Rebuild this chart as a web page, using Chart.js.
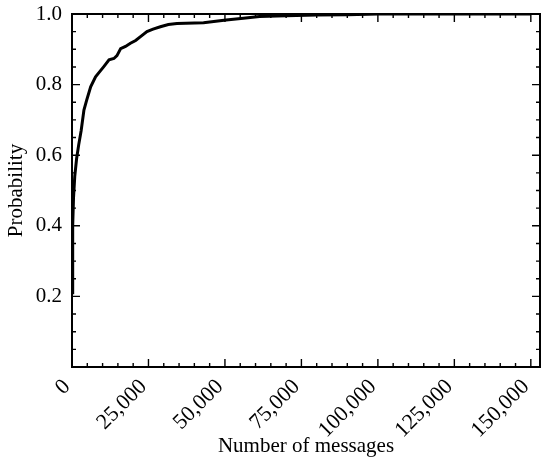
<!DOCTYPE html>
<html>
<head>
<meta charset="utf-8">
<script src="https://cdn.jsdelivr.net/npm/chart.js@4/dist/chart.umd.min.js"></script>
<style>
    html, body { margin: 0; padding: 0; background: #fff; }
    #wrap { width: 550px; height: 463px; }
</style>
</head>
<body>
<div id="wrap"><canvas id="chart" width="550" height="463"></canvas></div>
<script>
const messageCounts = [0, 150, 300, 500, 900, 1500, 2200, 3000, 3900, 4800, 6100, 7700,
    9000, 10400, 12100, 13700, 14700, 15900, 17500, 19100, 20800, 22400, 24500, 26500,
    28900, 31500, 34300, 43000, 50400, 56000, 61300, 70000, 80000, 90000, 100000, 125000, 150000];
const probabilities = [0.21, 0.30, 0.40, 0.48, 0.54, 0.59, 0.63, 0.67, 0.728, 0.756, 0.794, 0.822,
    0.836, 0.851, 0.870, 0.874, 0.882, 0.902, 0.908, 0.917, 0.925, 0.936, 0.950, 0.957,
    0.964, 0.970, 0.973, 0.975, 0.983, 0.988, 0.993, 0.995, 0.997, 0.998, 1.0, 1.0, 1.0];

const xTicks = [0, 25000, 50000, 75000, 100000, 125000, 150000];
const yTicks = [0.2, 0.4, 0.6, 0.8, 1.0];

const X_MAX = 153000;
const SERIF = '"Liberation Serif", "Times New Roman", serif';
const FONT = { family: SERIF, size: 21 };

// Draws the box frame and inward major/minor ticks on all four sides
const frameTicks = {
    id: 'frameTicks',
    afterDraw(chart) {
        const { ctx, chartArea: a, scales: { x, y } } = chart;
        ctx.save();
        ctx.strokeStyle = '#000';
        ctx.lineWidth = 2;
        ctx.strokeRect(a.left, a.top, a.right - a.left, a.bottom - a.top);
        ctx.lineWidth = 1.4;
        ctx.beginPath();
        for (let v = 0; v <= X_MAX; v += 5000) {
            const px = x.getPixelForValue(v);
            const len = v % 25000 === 0 ? 8 : 4;
            ctx.moveTo(px, a.bottom); ctx.lineTo(px, a.bottom - len);
            ctx.moveTo(px, a.top); ctx.lineTo(px, a.top + len);
        }
        for (let i = 0; i <= 20; i++) {
            const v = i * 0.05;
            const py = y.getPixelForValue(v);
            const len = i % 4 === 0 ? 8 : 4;
            ctx.moveTo(a.left, py); ctx.lineTo(a.left + len, py);
            ctx.moveTo(a.right, py); ctx.lineTo(a.right - len, py);
        }
        ctx.stroke();
        ctx.restore();
    }
};

new Chart(document.getElementById('chart'), {
    type: 'line',
    data: {
        datasets: [{
            data: messageCounts.map((m, i) => ({ x: m, y: probabilities[i] })),
            borderColor: '#000',
            borderWidth: 3,
            pointRadius: 0,
            tension: 0,
            fill: false
        }]
    },
    options: {
        responsive: false,
        animation: false,
        layout: { padding: { top: 14, right: 10, left: 0, bottom: 0 } },
        plugins: { legend: { display: false }, tooltip: { enabled: false } },
        scales: {
            x: {
                type: 'linear',
                min: 0,
                max: X_MAX,
                afterFit: (s) => {
                    s.height = 96;
                    s.paddingLeft = 0;
                    s.paddingRight = 0;
                },
                afterBuildTicks: (s) => { s.ticks = xTicks.map(v => ({ value: v })); },
                grid: { display: false, drawTicks: false },
                border: { display: false },
                ticks: {
                    color: '#000',
                    font: { family: SERIF, size: 22 },
                    padding: 7,
                    labelOffset: -5,
                    minRotation: 45,
                    maxRotation: 45,
                    autoSkip: false,
                    callback: (v) => Number(v).toLocaleString('en-US')
                },
                title: {
                    display: true,
                    text: 'Number of messages',
                    color: '#000',
                    font: FONT,
                    padding: { top: 0, bottom: 4 }
                }
            },
            y: {
                min: 0,
                max: 1,
                afterFit: (s) => {
                    s.width = 72;
                    s.paddingTop = 0;
                    s.paddingBottom = 0;
                },
                afterBuildTicks: (s) => { s.ticks = yTicks.map(v => ({ value: v })); },
                grid: { display: false, drawTicks: false },
                border: { display: false },
                ticks: {
                    color: '#000',
                    font: FONT,
                    padding: 10,
                    callback: (v) => Number(v).toFixed(1)
                },
                title: {
                    display: true,
                    text: 'Probability',
                    color: '#000',
                    font: FONT,
                    padding: { top: 4, bottom: 0 }
                }
            }
        }
    },
    plugins: [frameTicks]
});
</script>
</body>
</html>
